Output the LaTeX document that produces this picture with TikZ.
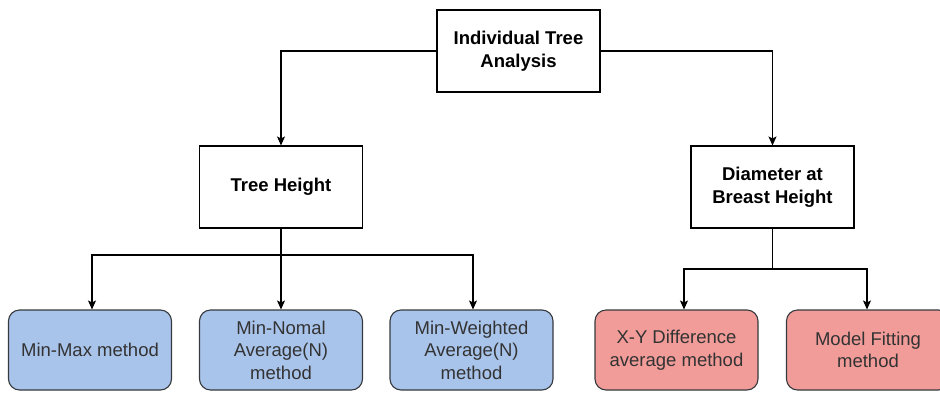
\documentclass[tikz,border=0pt]{standalone}
\usepackage{fontspec}
\setmainfont{Liberation Sans}
\usetikzlibrary{arrows.meta}
\definecolor{edgegray}{HTML}{36393D}
\definecolor{bluefill}{HTML}{A9C4EB}
\definecolor{redfill}{HTML}{F19C99}
\definecolor{textgray}{HTML}{333333}
\tikzset{
  headbox/.style={draw=black, line width=1.1pt, fill=white, minimum width=163pt,
    minimum height=82pt, align=center, inner sep=2pt,
    font=\fontsize{18.5}{22.5}\selectfont\bfseries},
  methodbox/.style={draw=edgegray, line width=1.1pt, rounded corners=11pt,
    minimum width=163pt, minimum height=80pt, align=center, inner sep=2pt,
    text=textgray, font=\fontsize{18.5}{22.5}\selectfont},
  bluebox/.style={methodbox, fill=bluefill},
  redbox/.style={methodbox, fill=redfill},
  link/.style={draw=black, line width=1.1pt},
  arrowlink/.style={link, -{Stealth[length=9pt,width=8pt,inset=2pt]}}
}
\begin{document}
\begin{tikzpicture}[x=1pt,y=-1pt]
  \clip (0,0) rectangle (940,392);
  \fill[white] (0,0) rectangle (940,392);

  % root and the two measured quantities
  \node[headbox] (root) at (518.5,51) {Individual Tree\\Analysis};
  \node[headbox] (height) at (281,187) {Tree Height};
  \node[headbox] (dbh) at (772.5,187) {Diameter at\\Breast Height};

  % estimation methods
  \node[bluebox] (minmax) at (90,350) {Min-Max method};
  \node[bluebox] (minnomal) at (281,350) {Min-Nomal\\Average(N)\\method};
  \node[bluebox] (minweighted) at (471.5,350) {Min-Weighted\\Average(N)\\method};
  \node[redbox] (xydiff) at (676.5,350) {X-Y Difference\\average method};
  \node[redbox] (modelfit) at (868,350) {Model Fitting\\method};

  % branching points
  \coordinate (hsplit) at (281,255);
  \coordinate (dsplit) at (772.5,269);

  \draw[arrowlink] (root.west) -| (height.north);
  \draw[arrowlink] (root.east) -| (dbh.north);

  \draw[link] (height.south) -- (hsplit);
  \draw[arrowlink] (hsplit) -| ([xshift=2pt]minmax.north);
  \draw[arrowlink] (hsplit) -- (minnomal.north);
  \draw[arrowlink] (hsplit) -| ([xshift=1.5pt]minweighted.north);

  \draw[link] (dbh.south) -- (dsplit);
  \draw[arrowlink] (dsplit) -| ([xshift=7.5pt]xydiff.north);
  \draw[arrowlink] (dsplit) -| ([xshift=-1pt]modelfit.north);
\end{tikzpicture}
\end{document}
